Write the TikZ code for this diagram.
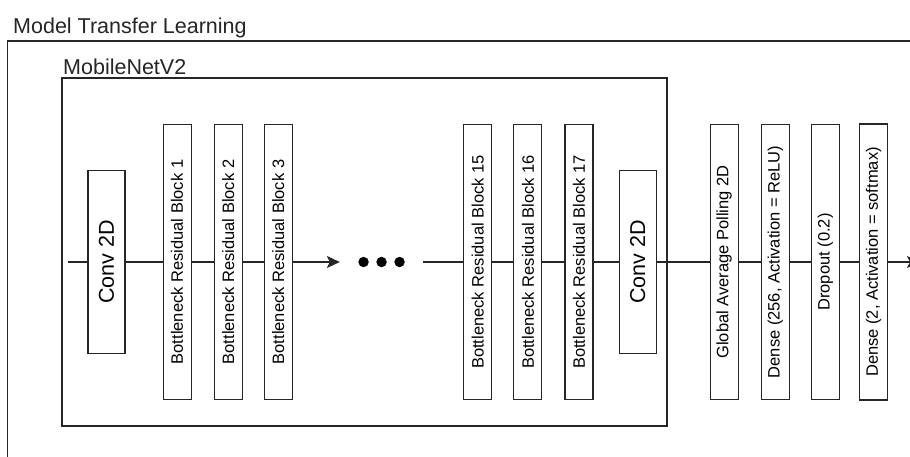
\documentclass[tikz,border=0pt]{standalone}
\usepackage{fontspec}
\setmainfont{Liberation Sans}
\usepackage{tikz}
\usetikzlibrary{arrows.meta, positioning, calc}

\begin{document}
\begin{tikzpicture}[
    x=1pt, y=-1pt,
    layer/.style={rectangle, draw=black!85, fill=white, minimum width=28pt, minimum height=275pt, inner sep=0pt, line width=1.1pt, font=\fontsize{16.5}{20}\selectfont},
    conv/.style={layer, minimum width=37pt, minimum height=183pt, font=\fontsize{21.5}{26}\selectfont},
    frame/.style={draw=black!85, line width=1.1pt},
    title/.style={anchor=base west, inner sep=0pt, text=black!85, font=\fontsize{21.5}{26}\selectfont},
    link/.style={draw=black!85, line width=1.2pt},
    arrow/.style={link, -{Stealth[length=13pt, width=12pt, inset=3pt]}},
]
\clip (0,0) rectangle (910,456);
\fill[white] (0,0) rectangle (910,456);

% frames
\draw[frame] (7.5,41) rectangle (940,480);
\node[title] (outerlbl) at (13,33) {Model Transfer Learning};
\draw[frame] (62,78) rectangle (667,426);
\node[title] (innerlbl) at (63,74) {MobileNetV2};

% MobileNetV2 layers
\coordinate (in) at (68,262);
\node[conv] (conv1) at (106.5,262) {\rotatebox{90}{Conv 2D}};
\node[layer, right=37pt of conv1] (brb1) {\rotatebox{90}{Bottleneck Residual Block 1}};
\node[layer, right=22pt of brb1] (brb2) {\rotatebox{90}{Bottleneck Residual Block 2}};
\node[layer, right=21pt of brb2] (brb3) {\rotatebox{90}{Bottleneck Residual Block 3}};
\node[minimum width=83pt, inner sep=0pt, right=47pt of brb3] (dots) {};
\node[layer, right=40pt of dots] (brb15) {\rotatebox{90}{Bottleneck Residual Block 15}};
\node[layer, right=21pt of brb15] (brb16) {\rotatebox{90}{Bottleneck Residual Block 16}};
\node[layer, right=22pt of brb16] (brb17) {\rotatebox{90}{Bottleneck Residual Block 17}};
\node[conv, right=25pt of brb17] (conv2) {\rotatebox{90}{Conv 2D}};

% classifier head
\node[layer, right=53pt of conv2] (gap) {\rotatebox{90}{Global Average Polling 2D}};
\node[layer, right=22pt of gap] (dense1) {\rotatebox{90}{Dense (256, Activation = ReLU)}};
\node[layer, right=21pt of dense1] (drop) {\rotatebox{90}{Dropout (0.2)}};
\node[layer, right=19pt of drop, minimum height=276pt] (dense2) {\rotatebox{90}{Dense (2, Activation = softmax)}};
\coordinate (out) at (920,262);

\foreach \dx in {-18,0,18}
    \fill[black] ([xshift=\dx pt]dots.center) circle (5.2);

\draw[link] (in) -- (conv1);
\draw[link] (conv1) -- (brb1);
\draw[link] (brb1) -- (brb2);
\draw[link] (brb2) -- (brb3);
\draw[arrow] (brb3) -- (dots);
\draw[link] (dots) -- (brb15);
\draw[link] (brb15) -- (brb16);
\draw[link] (brb16) -- (brb17);
\draw[link] (brb17) -- (conv2);
\draw[link] (conv2) -- (gap);
\draw[link] (gap) -- (dense1);
\draw[link] (dense1) -- (drop);
\draw[link] (drop) -- (dense2);
\draw[arrow] (dense2) -- (out);
\end{tikzpicture}
\end{document}
